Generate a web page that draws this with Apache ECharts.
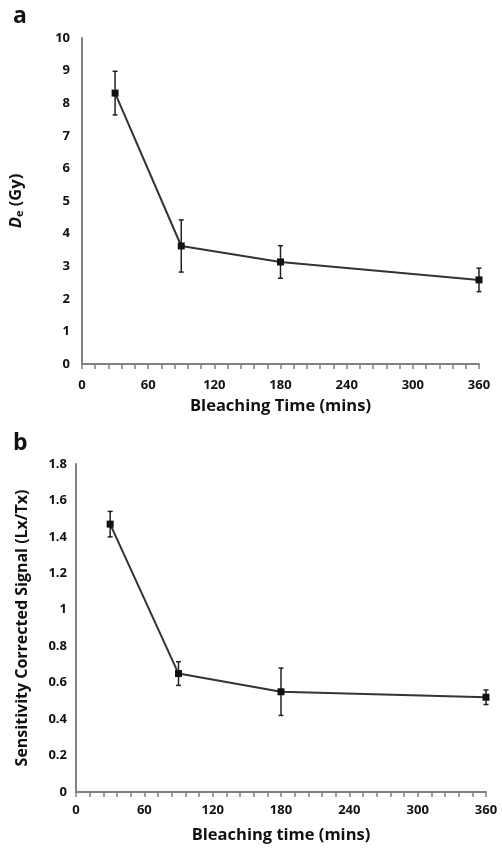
<!DOCTYPE html>
<html>
<head>
<meta charset="utf-8">
<title>Bleaching time</title>
<script src="https://cdn.jsdelivr.net/npm/echarts@6/dist/echarts.min.js"></script>
<style>
  html, body { margin: 0; padding: 0; background: #fff; }
  #chart { width: 502px; height: 849px; }
</style>
</head>
<body>
<div id="chart"></div>
<script>
// bleaching times (mins)
var times = [30, 90, 180, 360];
// panel a: equivalent dose De (Gy)
var deValues = [8.31, 3.62, 3.13, 2.58];
var deErrors = [0.67, 0.80, 0.50, 0.36];
// panel b: sensitivity corrected signal Lx/Tx
var signalValues = [1.47, 0.65, 0.55, 0.52];
var signalErrors = [0.07, 0.065, 0.13, 0.04];

var FONT = 'Open Sans';
var myChart = echarts.init(document.getElementById('chart'));

function pairs(vals) {
    return times.map(function (t, i) { return [t, vals[i]]; });
}
function errData(vals, errs) {
    return times.map(function (t, i) { return [t, vals[i] - errs[i], vals[i] + errs[i]]; });
}
function renderErr(params, api) {
    var x = api.value(0);
    var lo = api.coord([x, api.value(1)]);
    var hi = api.coord([x, api.value(2)]);
    var cap = 2.5;
    var st = { stroke: '#222', lineWidth: 1.5 };
    return {
        type: 'group',
        children: [
            { type: 'line', shape: { x1: lo[0], y1: lo[1], x2: hi[0], y2: hi[1] }, style: st },
            { type: 'line', shape: { x1: lo[0] - cap, y1: lo[1], x2: lo[0] + cap, y2: lo[1] }, style: st },
            { type: 'line', shape: { x1: hi[0] - cap, y1: hi[1], x2: hi[0] + cap, y2: hi[1] }, style: st }
        ]
    };
}

function xAxisOf(idx, name, margin, gap) {
    return {
        type: 'value', gridIndex: idx, min: 0, max: 360, interval: 60,
        name: name, nameLocation: 'middle', nameGap: gap,
        nameTextStyle: { fontFamily: FONT, fontWeight: 'bold', fontSize: 16.5, color: '#111' },
        axisLine: { lineStyle: { color: '#808080', width: 2 } },
        axisTick: { show: true, length: 5, lineStyle: { color: '#808080', width: 1.5 } },
        minorTick: { show: true, splitNumber: 5, length: 5, lineStyle: { color: '#808080', width: 1.5 } },
        axisLabel: { fontFamily: FONT, fontWeight: 'bold', fontSize: 13, color: '#111', margin: margin },
        splitLine: { show: false }
    };
}

var yLabel = { fontFamily: FONT, fontWeight: 'bold', fontSize: 13, color: '#111' };
var axisLine = { show: true, lineStyle: { color: '#808080', width: 2 } };

var option = {
    animation: false,
    backgroundColor: '#fff',
    title: [
        { text: 'a', left: 8, top: 0, textStyle: { fontFamily: FONT, fontWeight: 'bold', fontSize: 23, color: '#111' } },
        { text: 'b', left: 8, top: 427, textStyle: { fontFamily: FONT, fontWeight: 'bold', fontSize: 23, color: '#111' } }
    ],
    grid: [
        { left: 81, right: 23, top: 38, height: 326 },
        { left: 76, right: 16, top: 464, height: 328 }
    ],
    xAxis: [
        xAxisOf(0, 'Bleaching Time (mins)', 15, 34),
        xAxisOf(1, 'Bleaching time (mins)', 12, 35)
    ],
    yAxis: [
        {
            type: 'value', gridIndex: 0, min: 0, max: 10, interval: 1,
            name: '{d|D}{e|e} (Gy)', nameLocation: 'middle', nameGap: 57, nameRotate: 90,
            nameTextStyle: {
                fontFamily: FONT, fontWeight: 'bold', fontSize: 16.5, color: '#111',
                rich: {
                    d: { fontFamily: FONT, fontWeight: 'bold', fontStyle: 'italic', fontSize: 16.5, color: '#111' },
                    e: { fontFamily: FONT, fontWeight: 'bold', fontSize: 11, color: '#111', verticalAlign: 'bottom', padding: [4, 0, 0, 0] }
                }
            },
            axisLine: axisLine, axisTick: { show: false },
            axisLabel: Object.assign({ margin: 12 }, yLabel),
            splitLine: { show: false }
        },
        {
            type: 'value', gridIndex: 1, min: 0, max: 1.8, interval: 0.2,
            name: 'Sensitivity Corrected Signal (Lx/Tx)', nameLocation: 'middle', nameGap: 46, nameRotate: 90,
            nameTextStyle: { fontFamily: FONT, fontWeight: 'bold', fontSize: 16, color: '#111' },
            axisLine: axisLine, axisTick: { show: false },
            axisLabel: Object.assign({ margin: 9, formatter: function (v) { return +v.toFixed(1) + ''; } }, yLabel),
            splitLine: { show: false }
        }
    ],
    series: [
        {
            type: 'custom', xAxisIndex: 0, yAxisIndex: 0, renderItem: renderErr,
            data: errData(deValues, deErrors), z: 3
        },
        {
            type: 'line', xAxisIndex: 0, yAxisIndex: 0, data: pairs(deValues),
            symbol: 'rect', symbolSize: 7, itemStyle: { color: '#111' },
            lineStyle: { color: '#333', width: 2 }, z: 4
        },
        {
            type: 'custom', xAxisIndex: 1, yAxisIndex: 1, renderItem: renderErr,
            data: errData(signalValues, signalErrors), z: 3
        },
        {
            type: 'line', xAxisIndex: 1, yAxisIndex: 1, data: pairs(signalValues),
            symbol: 'rect', symbolSize: 7, itemStyle: { color: '#111' },
            lineStyle: { color: '#333', width: 2 }, z: 4
        }
    ]
};

myChart.setOption(option);
</script>
</body>
</html>
